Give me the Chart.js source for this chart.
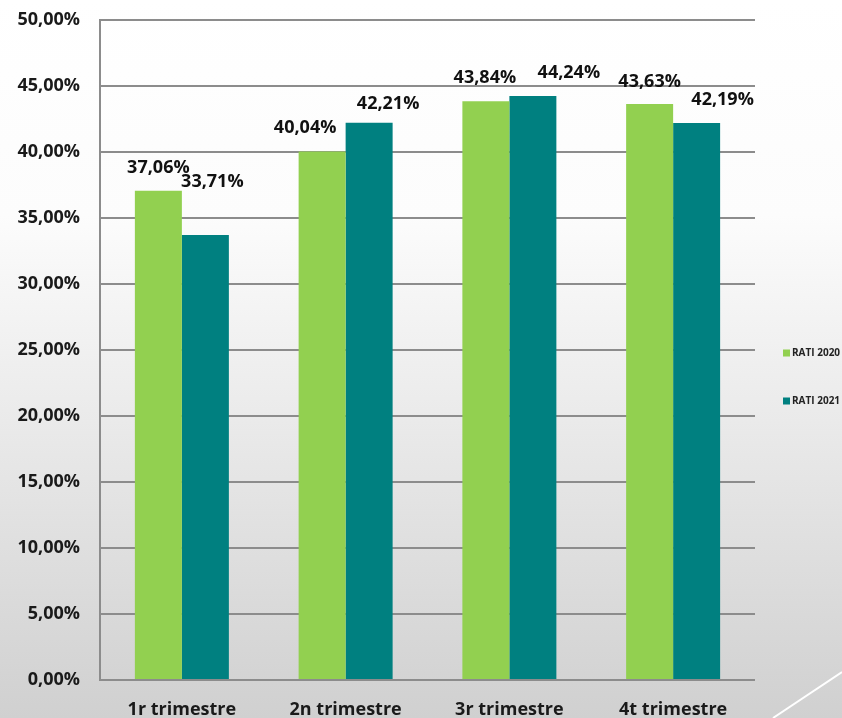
<!DOCTYPE html>
<html>
<head>
<meta charset="utf-8">
<script src="https://cdn.jsdelivr.net/npm/chart.js@4/dist/chart.umd.min.js"></script>
<style>
  html, body { margin: 0; padding: 0; background: #fff; }
  canvas { display: block; }
</style>
</head>
<body>
<canvas id="chart" width="842" height="718"></canvas>
<script>
const categories = ['1r trimestre', '2n trimestre', '3r trimestre', '4t trimestre'];
const rati2020 = [37.06, 40.04, 43.84, 43.63];
const rati2021 = [33.71, 42.21, 44.24, 42.19];
const seriesNames = ['RATI 2020', 'RATI 2021'];
const yTicks = { min: 0, max: 50, step: 5 };

const FONT = "'Open Sans', 'DejaVu Sans', sans-serif";
const pct = v => v.toFixed(2).replace('.', ',') + '%';

// slide background: white fading to light grey, plus the thin diagonal stroke
const backdrop = {
  id: 'backdrop',
  beforeDraw(chart) {
    const { ctx, width, height } = chart;
    const g = ctx.createLinearGradient(0, 0, 0, height);
    g.addColorStop(0, '#ffffff');
    g.addColorStop(0.3, '#fcfcfc');
    g.addColorStop(1, '#d0d0d0');
    ctx.save();
    ctx.fillStyle = g;
    ctx.fillRect(0, 0, width, height);
    ctx.strokeStyle = '#ffffff';
    ctx.lineWidth = 2;
    ctx.beginPath();
    ctx.moveTo(width - 69, height);
    ctx.lineTo(width, height - 46);
    ctx.stroke();
    ctx.restore();
  }
};

// value labels above each bar (some were nudged by hand in the original)
const valueLabels = {
  id: 'valueLabels',
  afterDatasetsDraw(chart, args, opts) {
    const { ctx } = chart;
    ctx.save();
    ctx.font = `bold 18px ${FONT}`;
    ctx.fillStyle = '#111';
    ctx.textAlign = 'center';
    ctx.textBaseline = 'alphabetic';
    chart.data.datasets.forEach((ds, di) => {
      chart.getDatasetMeta(di).data.forEach((bar, i) => {
        const [dx, dy] = opts.nudge[di][i];
        ctx.fillText(pct(ds.data[i]), bar.x + dx, bar.y - 18 + dy);
      });
    });
    ctx.restore();
  }
};

// small legend at the right of the plot
const sideLegend = {
  id: 'sideLegend',
  afterDraw(chart) {
    const { ctx, chartArea } = chart;
    ctx.save();
    ctx.font = `bold 10px ${FONT}`;
    ctx.textBaseline = 'middle';
    chart.data.datasets.forEach((ds, i) => {
      const x = chartArea.right + 28;
      const y = chartArea.top + 333 + i * 48;
      ctx.fillStyle = ds.backgroundColor;
      ctx.fillRect(x, y - 3.5, 7, 7);
      ctx.fillStyle = '#222';
      ctx.fillText(ds.label, x + 9, y + 0.5);
    });
    ctx.restore();
  }
};

new Chart(document.getElementById('chart'), {
  type: 'bar',
  data: {
    labels: categories,
    datasets: [
      { label: seriesNames[0], data: rati2020, backgroundColor: '#92d050' },
      { label: seriesNames[1], data: rati2021, backgroundColor: '#008080' }
    ]
  },
  options: {
    responsive: false,
    animation: false,
    layout: { padding: { top: 20, left: 0, right: 87, bottom: 0 } },
    datasets: { bar: { categoryPercentage: 0.574, barPercentage: 1.0, borderWidth: 0 } },
    plugins: {
      legend: { display: false },
      tooltip: { enabled: false },
      valueLabels: {
        nudge: [
          [[0, 0], [-17, 0], [-1, 0], [0, 1]],
          [[7, -30], [19, 4], [36, 0], [26, 0]]
        ]
      }
    },
    scales: {
      x: {
        grid: { display: false },
        border: { display: false },
        ticks: { color: '#1a1a1a', font: { family: FONT, size: 18, weight: 'bold' }, padding: 11 },
        afterFit(scale) { scale.height = 38; }
      },
      y: {
        min: yTicks.min,
        max: yTicks.max,
        ticks: {
          stepSize: yTicks.step,
          color: '#1a1a1a',
          padding: 20,
          font: { family: FONT, size: 18, weight: 'bold' },
          callback: v => pct(v)
        },
        grid: { color: '#8c8c8c', lineWidth: 2, drawTicks: false },
        border: { display: true, color: '#8c8c8c', width: 2 },
        afterFit(scale) {
          scale.width = 100;
          scale.paddingTop = 0;
          scale.paddingBottom = 0;
        }
      }
    }
  },
  plugins: [backdrop, valueLabels, sideLegend]
});
</script>
</body>
</html>
